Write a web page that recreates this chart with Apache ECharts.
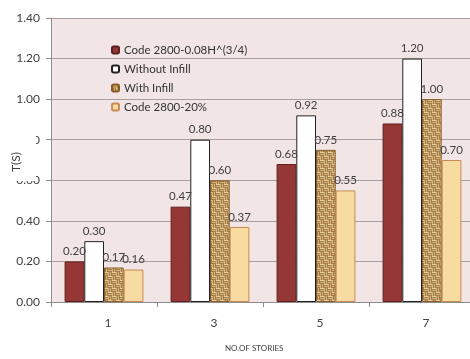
<!DOCTYPE html>
<html>
<head>
<meta charset="utf-8">
<script src="https://cdn.jsdelivr.net/npm/echarts@6/dist/echarts.min.js"></script>
<style>
  html, body { margin: 0; padding: 0; background: #ffffff; }
  #chart { width: 470px; height: 359px; }
</style>
</head>
<body>
<div id="chart"></div>
<script>
// Fundamental period T(s) by number of stories
var categories = ['1', '3', '5', '7'];
var codeFormula = [0.20, 0.47, 0.68, 0.88];
var withoutInfill = [0.30, 0.80, 0.92, 1.20];
var withInfill = [0.17, 0.60, 0.75, 1.00];
var code20 = [0.16, 0.37, 0.55, 0.70];
var seriesNames = ['Code 2800-0.08H^(3/4)', 'Without Infill', 'With Infill', 'Code 2800-20%'];

// basket-weave fill for the "With Infill" bars
function weavePattern() {
  var c = document.createElement('canvas');
  c.width = 8; c.height = 8;
  var g = c.getContext('2d');
  g.fillStyle = '#d6b47c';
  g.fillRect(0, 0, 8, 8);
  g.fillStyle = '#a27c46';
  // horizontal strands in top-left / bottom-right blocks
  g.fillRect(0, 1, 4, 1); g.fillRect(0, 3, 4, 1);
  g.fillRect(4, 5, 4, 1); g.fillRect(4, 7, 4, 1);
  // vertical strands in top-right / bottom-left blocks
  g.fillRect(5, 0, 1, 4); g.fillRect(7, 0, 1, 4);
  g.fillRect(1, 4, 1, 4); g.fillRect(3, 4, 1, 4);
  g.fillStyle = '#e8d2a2';
  g.fillRect(0, 0, 4, 1); g.fillRect(4, 4, 4, 1);
  return c;
}

var chart = echarts.init(document.getElementById('chart'), null, { renderer: 'canvas' });
var FONT = 'Lato, "Open Sans", sans-serif';
var labelStyle = {
  show: true, position: 'top', distance: 4,
  color: '#404040', fontSize: 11.5, fontFamily: FONT,
  formatter: function (p) { return p.value.toFixed(2); }
};

var option = {
  animation: false,
  backgroundColor: '#ffffff',
  textStyle: { fontFamily: FONT },
  grid: {
    left: 51, top: 18, bottom: 57, width: 424,
    outerBoundsMode: 'none', containLabel: false,
    show: true, backgroundColor: '#f1e5e5', borderWidth: 0
  },
  legend: {
    orient: 'vertical', left: 106, top: 39,
    itemWidth: 7, itemHeight: 7, itemGap: 7,
    textStyle: { color: '#333333', fontSize: 11.5, fontFamily: FONT },
    data: seriesNames
  },
  xAxis: {
    type: 'category', data: categories,
    axisLine: { lineStyle: { color: '#8c8c8c' } },
    axisTick: { show: true, length: 5, lineStyle: { color: '#8c8c8c' } },
    axisLabel: { color: '#404040', fontSize: 12, margin: 15, fontFamily: FONT, padding: [0, 0, 0, 8] }
  },
  yAxis: {
    type: 'value', min: 0, max: 1.4, interval: 0.2,
    axisLine: { show: true, lineStyle: { color: '#8c8c8c' } },
    axisTick: { show: true, length: 5, lineStyle: { color: '#8c8c8c' } },
    splitLine: { lineStyle: { color: '#a8a0a0', width: 1 } },
    axisLabel: {
      color: '#404040', fontSize: 12, margin: 11, fontFamily: FONT,
      formatter: function (v) { return v.toFixed(2); }
    }
  },
  graphic: [
    // axis title sits on a white panel that overlaps the tick labels next to it
    {
      type: 'rect', z: 100, zlevel: 1,
      shape: { x: 0, y: 128, width: 36, height: 53 }, style: { fill: '#ffffff' }
    },
    {
      type: 'text', z: 101, zlevel: 1, x: 16, y: 162, rotation: Math.PI / 2,
      style: { text: 'T(S)', fill: '#404040', fontSize: 12, fontFamily: FONT, align: 'center', verticalAlign: 'middle' }
    },
    {
      type: 'text', left: 225, top: 344,
      style: { text: 'NO.OF STORIES', fill: '#404040', fontSize: 8, fontFamily: FONT, textAlign: 'center' }
    }
  ],
  series: [
    {
      name: seriesNames[0], type: 'bar', data: codeFormula,
      barWidth: 19.7, barGap: '0%',
      itemStyle: { color: '#953735', borderColor: '#5e1f1e', borderWidth: 1 },
      label: labelStyle
    },
    {
      name: seriesNames[1], type: 'bar', data: withoutInfill,
      barWidth: 19.7, barGap: '0%',
      itemStyle: { color: '#ffffff', borderColor: '#222222', borderWidth: 1 },
      label: labelStyle
    },
    {
      name: seriesNames[2], type: 'bar', data: withInfill,
      barWidth: 19.7, barGap: '0%',
      itemStyle: { color: { image: weavePattern(), repeat: 'repeat' }, borderColor: '#8a5a2a', borderWidth: 1 },
      label: labelStyle
    },
    {
      name: seriesNames[3], type: 'bar', data: code20,
      barWidth: 19.7, barGap: '0%',
      itemStyle: { color: '#f7dba0', borderColor: '#c98a55', borderWidth: 1 },
      label: labelStyle
    }
  ]
};
chart.setOption(option);
</script>
</body>
</html>
